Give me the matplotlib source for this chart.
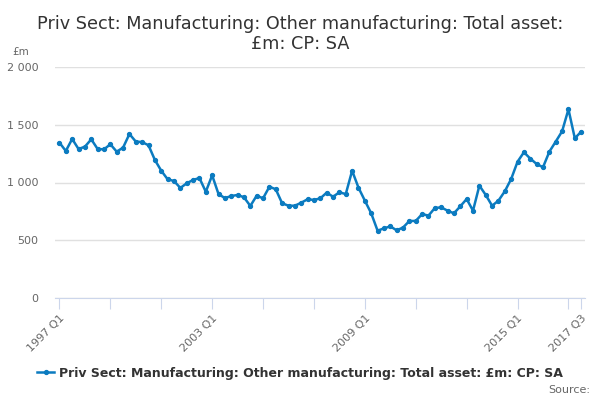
import matplotlib
matplotlib.use("Agg")
import matplotlib.pyplot as plt
from matplotlib.lines import Line2D

title = "Priv Sect: Manufacturing: Other manufacturing: Total asset:\n£m: CP: SA"
series_name = "Priv Sect: Manufacturing: Other manufacturing: Total asset: £m: CP: SA"
start_year = 1997
values = [1345, 1273, 1377, 1290, 1310, 1374, 1290, 1287, 1331, 1267, 1302, 1420,
          1354, 1350, 1322, 1195, 1102, 1028, 1013, 953, 993, 1022, 1039, 920,
          1062, 900, 865, 883, 892, 872, 797, 886, 863, 964, 941, 820,
          799, 799, 825, 855, 849, 863, 912, 877, 915, 900, 1102, 955,
          843, 733, 583, 603, 620, 586, 610, 667, 667, 727, 713, 779,
          785, 756, 733, 794, 857, 756, 973, 892, 799, 843, 924, 1031,
          1180, 1262, 1207, 1160, 1132, 1267, 1354, 1443, 1634, 1383, 1440]
labels = [f"{start_year + i // 4} Q{i % 4 + 1}" for i in range(len(values))]
label_ticks = ["1997 Q1", "2003 Q1", "2009 Q1", "2015 Q1", "2017 Q3"]
y_ticks = [0, 500, 1000, 1500, 2000]
y_tick_labels = ["0", "500", "1 000", "1 500", "2 000"]

color = "#0b7bc0"
fig = plt.figure(figsize=(6, 4), dpi=100)
ax = fig.add_axes([55/600, 102/400, 530/600, 231/400])
x = list(range(len(values)))
ax.plot(x, values, color=color, lw=1.8, marker="o", ms=2.8, zorder=3)
ax.set_xlim(-0.7, 82.6)
ax.set_ylim(0, 2000)
ax.set_yticks(y_ticks)
ax.set_yticklabels(y_tick_labels)
ax.yaxis.grid(True, color="#e0e0e0", lw=1)
ax.set_axisbelow(True)
for s in ["top", "right", "left"]:
    ax.spines[s].set_visible(False)
ax.spines["bottom"].set_color("#ccd6eb")
ax.tick_params(axis="y", length=0, labelsize=8, labelcolor="#666666", pad=12)
tick_pos = list(range(0, len(values), 8)) + [len(values) - 1]
ax.set_xticks(tick_pos)
ax.set_xticklabels([l if l in label_ticks else "" for l in (labels[i] for i in tick_pos)])
ax.tick_params(axis="x", length=8, color="#ccd6eb", labelsize=8, labelcolor="#666666", pad=3)
for t in ax.get_xticklabels():
    t.set_rotation(45)
    t.set_ha("right")
    t.set_rotation_mode("anchor")

fig.text(0.5, 0.915, title, ha="center", va="center", fontsize=12.7, color="#333333", linespacing=1.15)
fig.text(12/600, 1 - 52/400, "£m", fontsize=7.5, color="#666666", va="center")
handle = Line2D([], [], color=color, lw=1.8, marker="o", ms=2.8)
fig.legend([handle], [series_name], loc="center", bbox_to_anchor=(0.5, 1 - 373/400), frameon=False,
           prop={"weight": "bold", "size": 9}, handlelength=1.3, handletextpad=0.4, labelcolor="#333333")
fig.text(590/600, 1 - 390/400, "Source:", ha="right", va="center", fontsize=8, color="#666666")
fig.savefig("out.png", dpi=100)
